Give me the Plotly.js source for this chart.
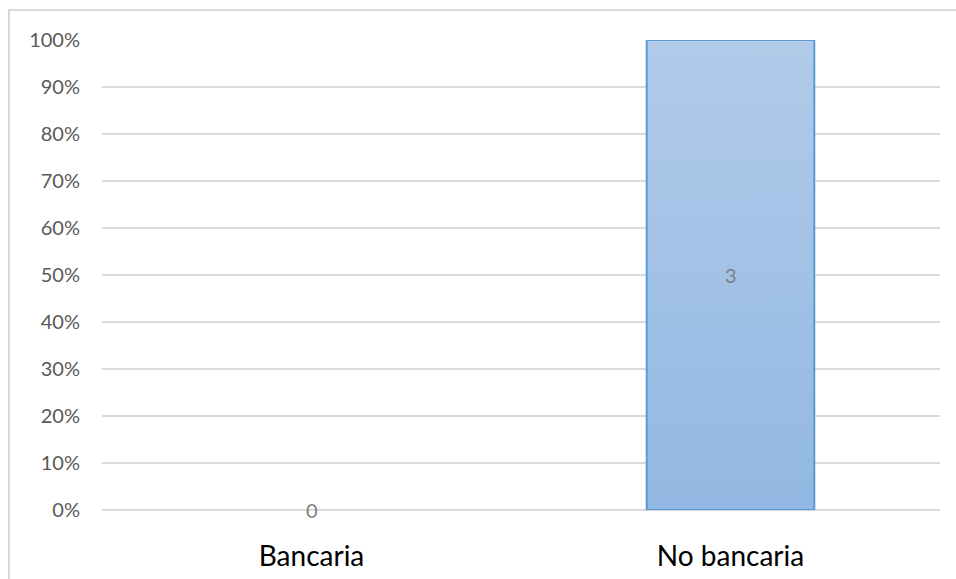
<!DOCTYPE html>
<html>
<head>
<meta charset="utf-8">
<script src="https://cdn.plot.ly/plotly-3.0.1.min.js"></script>
<style>
  html, body { margin: 0; padding: 0; background: #fff; overflow: hidden; }
  #wrap { position: relative; width: 956px; height: 579px; }
  #chart { position: absolute; left: 0; top: 0; width: 956px; height: 579px; }
  #frame {
    position: absolute; left: 8px; top: 9px; width: 1000px; height: 700px;
    border-left: 2px solid #d9d9d9; border-top: 2px solid #d9d9d9;
    pointer-events: none;
  }
</style>
</head>
<body>
<div id="wrap">
  <div id="chart"></div>
  <div id="frame"></div>
</div>
<script>
// Categories and counts
const categories = ['Bancaria', 'No bancaria'];
const counts = [0, 3];

// 100% stacked: each category's share of its own total (single series)
const categoryTotals = counts.map(v => v);
const shares = counts.map((v, i) => categoryTotals[i] > 0 ? v / categoryTotals[i] * 100 : 0);

const trace = {
  type: 'bar',
  x: categories,
  y: shares,
  marker: {
    color: '#a1c1e6',
    // empty columns get no outline
    line: { color: '#5b9bd5', width: shares.map(s => s > 0 ? 2 : 0) }
  },
  hoverinfo: 'skip'
};

// Value labels centred on each bar segment
const labels = categories.map((c, i) => ({
  x: c,
  y: shares[i] / 2,
  text: String(counts[i]),
  showarrow: false,
  font: { family: 'Lato, sans-serif', size: 20, color: '#7f7f7f' },
  xanchor: 'center',
  yanchor: 'middle'
}));

const layout = {
  width: 956,
  height: 579,
  margin: { l: 102, r: 16, t: 40, b: 69 },
  paper_bgcolor: 'rgba(0,0,0,0)',
  plot_bgcolor: 'rgba(0,0,0,0)',
  bargap: 0.6,
  showlegend: false,
  xaxis: {
    type: 'category',
    showgrid: false,
    showline: false,
    zeroline: false,
    ticks: '',
    ticklabelstandoff: 27,
    tickfont: { family: 'Lato, sans-serif', size: 28, color: '#000000' }
  },
  yaxis: {
    range: [0, 100],
    dtick: 10,
    ticksuffix: '%',
    showgrid: true,
    gridcolor: '#d9d9d9',
    gridwidth: 1.5,
    zeroline: true,
    zerolinecolor: '#d9d9d9',
    zerolinewidth: 1.5,
    showline: false,
    ticks: '',
    ticklabelstandoff: 21,
    tickfont: { family: 'Lato, sans-serif', size: 20, color: '#595959' }
  },
  annotations: labels
};

Plotly.newPlot('chart', [trace], layout, { staticPlot: true, displayModeBar: false }).then(gd => {
  // Vertical gradient fill for the columns
  const svg = gd.querySelector('svg.main-svg');
  const ns = 'http://www.w3.org/2000/svg';
  let defs = svg.querySelector('defs');
  if (!defs) { defs = document.createElementNS(ns, 'defs'); svg.insertBefore(defs, svg.firstChild); }
  const grad = document.createElementNS(ns, 'linearGradient');
  grad.setAttribute('id', 'colGrad');
  grad.setAttribute('x1', '0'); grad.setAttribute('y1', '0');
  grad.setAttribute('x2', '0'); grad.setAttribute('y2', '1');
  [['0', '#b1cbe9'], ['1', '#92b8e3']].forEach(([o, c]) => {
    const s = document.createElementNS(ns, 'stop');
    s.setAttribute('offset', o);
    s.setAttribute('stop-color', c);
    grad.appendChild(s);
  });
  defs.appendChild(grad);
  gd.querySelectorAll('.bars .point path').forEach(p => { p.style.fill = 'url(#colGrad)'; });
});
</script>
</body>
</html>
